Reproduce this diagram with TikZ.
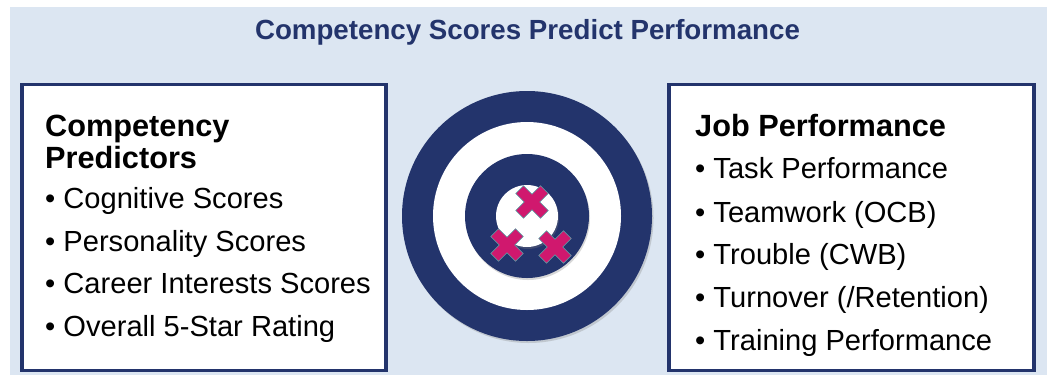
\documentclass[tikz,border=0pt]{standalone}
\usepackage{fontspec}
\setmainfont{Liberation Sans}
\usetikzlibrary{shadows}
\definecolor{navy}{RGB}{35, 52, 108}
\definecolor{paleblue}{RGB}{220, 230, 242}
\definecolor{hitpink}{RGB}{208, 24, 110}
\definecolor{hitedge}{RGB}{80, 170, 170}

\tikzset{
  panel/.style={rectangle, draw=navy, line width=3.5pt, fill=white, inner sep=0pt, outer sep=0pt, minimum height=286pt},
  ring/.style={circle, inner sep=0pt, outer sep=0pt},
  head/.style={anchor=base west, inner sep=0pt, font=\fontsize{30.7}{32}\selectfont\bfseries},
  item/.style={anchor=base west, inner sep=0pt, font=\fontsize{29.1}{43}\selectfont},
  hitmark/.pic={
    \draw [fill=hitpink, draw=hitedge, line width=0.6pt, rotate=45]
      (5.5pt,5.5pt) -- (17.5pt,5.5pt) -- (17.5pt,-5.5pt) -- (5.5pt,-5.5pt) -- (5.5pt,-17.5pt) -- (-5.5pt,-17.5pt)
      -- (-5.5pt,-5.5pt) -- (-17.5pt,-5.5pt) -- (-17.5pt,5.5pt) -- (-5.5pt,5.5pt) -- (-5.5pt,17.5pt) -- (5.5pt,17.5pt) -- cycle;
  }
}

\begin{document}
\begin{tikzpicture}
\useasboundingbox (0pt, 0pt) rectangle (1048pt, -378pt);
\fill [paleblue] (10pt, -7pt) rectangle (1047pt, -375pt);
\node (title) [inner sep=0pt, text=navy, font=\fontsize{27.7}{33}\selectfont\bfseries] at (527.5pt, -32pt) {Competency Scores Predict Performance};

% left panel
\node (left) [panel, minimum width=364pt, drop shadow={shadow xshift=1.5pt, shadow yshift=-1.5pt, opacity=0.25}] at (204pt, -227.5pt) {};
\node (lh1) [head] at (45pt, -136pt) {Competency};
\node (lh2) [head] at (45pt, -168pt) {Predictors};
\node (l1) [item] at (45pt, -208pt) {• Cognitive Scores};
\node (l2) [item] at (45pt, -251pt) {• Personality Scores};
\node (l3) [item] at (45pt, -293pt) {• Career Interests Scores};
\node (l4) [item] at (45pt, -336pt) {• Overall 5-Star Rating};

% right panel
\node (right) [panel, minimum width=365pt, drop shadow={shadow xshift=1.5pt, shadow yshift=-1.5pt, opacity=0.25}] at (851.5pt, -227.5pt) {};
\node (rh) [head] at (695pt, -136pt) {Job Performance};
\node (r1) [item] at (695pt, -178pt) {• Task Performance};
\node (r2) [item] at (695pt, -222pt) {• Teamwork (OCB)};
\node (r3) [item] at (695pt, -264pt) {• Trouble (CWB)};
\node (r4) [item] at (695pt, -307pt) {• Turnover (/Retention)};
\node (r5) [item] at (695pt, -350pt) {• Training Performance};

% target
\node (outer) [ring, minimum size=250pt, fill=navy, drop shadow={shadow xshift=1.5pt, shadow yshift=-2pt, opacity=0.3}] at (527pt, -216pt) {};
\node (band) [ring, minimum size=188pt, fill=white] at (outer.center) {};
\node (inner) [ring, minimum size=124pt, fill=navy, drop shadow={shadow xshift=1pt, shadow yshift=-2pt, opacity=0.3}] at (outer.center) {};
\node (eye) [ring, minimum size=62pt, fill=white, drop shadow={shadow xshift=1pt, shadow yshift=-2pt, opacity=0.3}] at (outer.center) {};
\pic (hit1) at (532pt, -202pt) {hitmark};
\pic (hit2) at (507pt, -245pt) {hitmark};
\pic (hit3) at (555pt, -247pt) {hitmark};
\end{tikzpicture}
\end{document}
